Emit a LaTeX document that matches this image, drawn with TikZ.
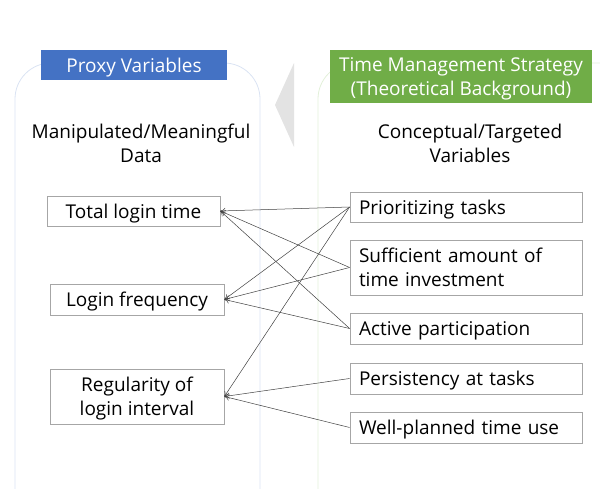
\documentclass[tikz,border=0pt]{standalone}
\usepackage{fontspec}
\setmainfont{Open Sans}
\usepackage{tikz}
\usetikzlibrary{arrows.meta}
\definecolor{proxyblue}{HTML}{4472C4}
\definecolor{strategygreen}{HTML}{70AD47}
\definecolor{panelblue}{HTML}{DAE3F3}
\definecolor{panelgreen}{HTML}{E2F0D9}
\definecolor{boxgray}{HTML}{A6A6A6}
\definecolor{linkgray}{HTML}{404040}
\definecolor{chevrongray}{HTML}{E3E3E3}

\begin{document}
\begin{tikzpicture}[x=1pt,y=-1pt,
		every node/.style={font=\fontsize{19}{24}\selectfont,text depth=0pt},
		varbox/.style={draw=boxgray,line width=0.8pt,inner sep=0pt,align=center},
		tmsbox/.style={draw=boxgray,line width=0.8pt,minimum width=232pt,text width=214pt,inner xsep=9pt,inner ysep=0pt,align=left},
		header/.style={inner sep=0pt,text=white,align=center},
		link/.style={draw=linkgray,line width=0.5pt,-{To[length=5pt,width=6pt]}}]
			\useasboundingbox (0,0) rectangle (600,489);
			% panels
			\draw[panelblue,line width=0.8pt,rounded corners=36pt] (15,63) rectangle (260,530);
			\draw[panelgreen,line width=0.8pt,rounded corners=36pt] (318,63) rectangle (660,530);
			\fill[chevrongray] (275,105) -- (294,63) -- (294,147) -- cycle;
			% headers
			\node[header,fill=proxyblue,minimum width=186pt,minimum height=30pt] (proxy) at (134,65) {Proxy Variables};
			\node[header,fill=strategygreen,minimum width=262pt,minimum height=53pt] (tms) at (461,76.5) {Time Management Strategy\\(Theoretical Background)};
			\node[align=center] (data) at (141,143) {Manipulated/Meaningful\\Data};
			\node[align=center] (concept) at (470,143) {Conceptual/Targeted\\Variables};
			% proxy variables
			\node[varbox,minimum width=173pt,minimum height=30pt] (tlt) at (133.5,211) {Total login time};
			\node[varbox,minimum width=174pt,minimum height=31pt] (lf) at (137,299.5) {Login frequency};
			\node[varbox,minimum width=174pt,minimum height=55pt] (rli) at (137,396.5) {Regularity of\\login interval};
			% targeted variables
			\node[tmsbox,minimum height=30pt] (pt) at (466,207) {Prioritizing tasks};
			\node[tmsbox,minimum height=55pt,text depth={}] (sat) at (466,267.5) {Sufficient amount of\\time investment};
			\node[tmsbox,minimum height=31pt] (ap) at (466,328.5) {Active participation};
			\node[tmsbox,minimum height=31pt] (pat) at (466,378.5) {Persistency at tasks};
			\node[tmsbox,minimum height=31pt] (wpt) at (466,427.5) {Well-planned time use};
			% links
			\draw[link] (pt.west) -- (tlt.east);
			\draw[link] (pt.west) -- (lf.east);
			\draw[link] (pt.west) -- (rli.east);
			\draw[link] (sat.west) -- (tlt.east);
			\draw[link] (sat.west) -- (lf.east);
			\draw[link] (ap.west) -- (tlt.east);
			\draw[link] (ap.west) -- (lf.east);
			\draw[link] (pat.west) -- (rli.east);
			\draw[link] (wpt.west) -- (rli.east);
		\end{tikzpicture}
\end{document}
